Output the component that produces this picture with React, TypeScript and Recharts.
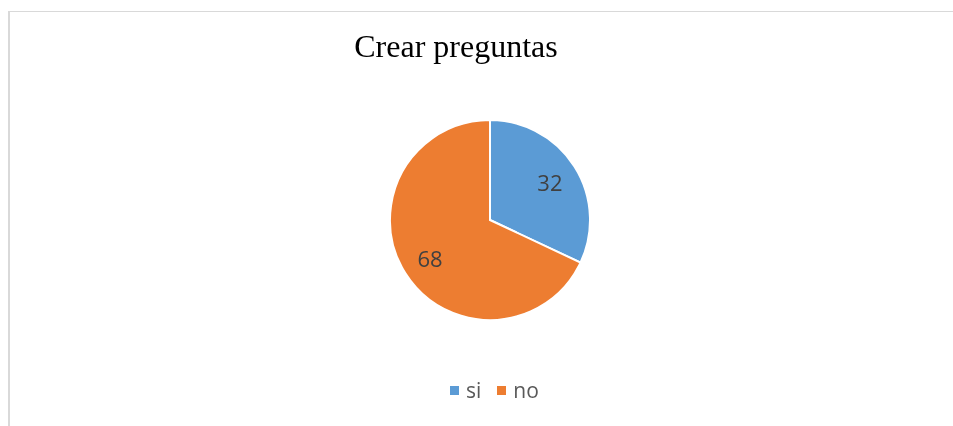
import React from 'react';
import { PieChart, Pie, Cell } from 'recharts';

// Chart data
const categories = ['si', 'no'];
const values = [32, 68];
const colors = ['#5b9bd5', '#ed7d31'];

const data = categories.map((name, i) => ({ name, value: values[i] }));

const RADIAN = Math.PI / 180;

// Value labels drawn inside each slice
const renderLabel = (props: any) => {
  const { cx, cy, midAngle, outerRadius, value } = props;
  const r = outerRadius * 0.71;
  const x = cx + r * Math.cos(-midAngle * RADIAN);
  const y = cy + r * Math.sin(-midAngle * RADIAN);
  return (
    <text
      x={x}
      y={y}
      fill="#404040"
      textAnchor="middle"
      dominantBaseline="central"
      style={{ fontSize: '22px', fontFamily: 'Open Sans, sans-serif' }}
    >
      {value}
    </text>
  );
};

export default function App() {
  return (
    <div
      style={{
        position: 'fixed',
        left: 8,
        top: 11,
        width: 945,
        height: 420,
        borderTop: '1px solid #d9d9d9',
        borderLeft: '2px solid #d9d9d9',
        boxSizing: 'border-box',
      }}
    >
      <div
        style={{
          position: 'absolute',
          left: 326,
          top: 16,
          width: 240,
          textAlign: 'center',
          fontFamily: '"Liberation Serif", "Times New Roman", serif',
          fontSize: '32px',
          lineHeight: 'normal',
          color: '#000',
        }}
      >
        Crear preguntas
      </div>
      <div style={{ position: 'absolute', left: -2, top: -1 }}>
        <PieChart width={945} height={415}>
          <Pie
            data={data}
            dataKey="value"
            nameKey="name"
            cx={477}
            cy={204}
            outerRadius={100}
            startAngle={90}
            endAngle={-270}
            stroke="#ffffff"
            strokeWidth={2}
            label={renderLabel}
            labelLine={false}
            isAnimationActive={false}
          >
            {data.map((entry, i) => (
              <Cell key={entry.name} fill={colors[i]} />
            ))}
          </Pie>
        </PieChart>
      </div>
      {/* Legend */}
      <div
        style={{
          position: 'absolute',
          left: 440,
          top: 364,
          display: 'flex',
          alignItems: 'center',
          fontFamily: 'Open Sans, sans-serif',
          fontSize: '21px',
          color: '#595959',
        }}
      >
        {data.map((entry, i) => (
          <div
            key={entry.name}
            style={{ display: 'flex', alignItems: 'center', marginRight: 16 }}
          >
            <span
              style={{
                display: 'inline-block',
                width: 9,
                height: 9,
                background: colors[i],
                marginRight: 7,
              }}
            />
            <span>{entry.name}</span>
          </div>
        ))}
      </div>
    </div>
  );
}
